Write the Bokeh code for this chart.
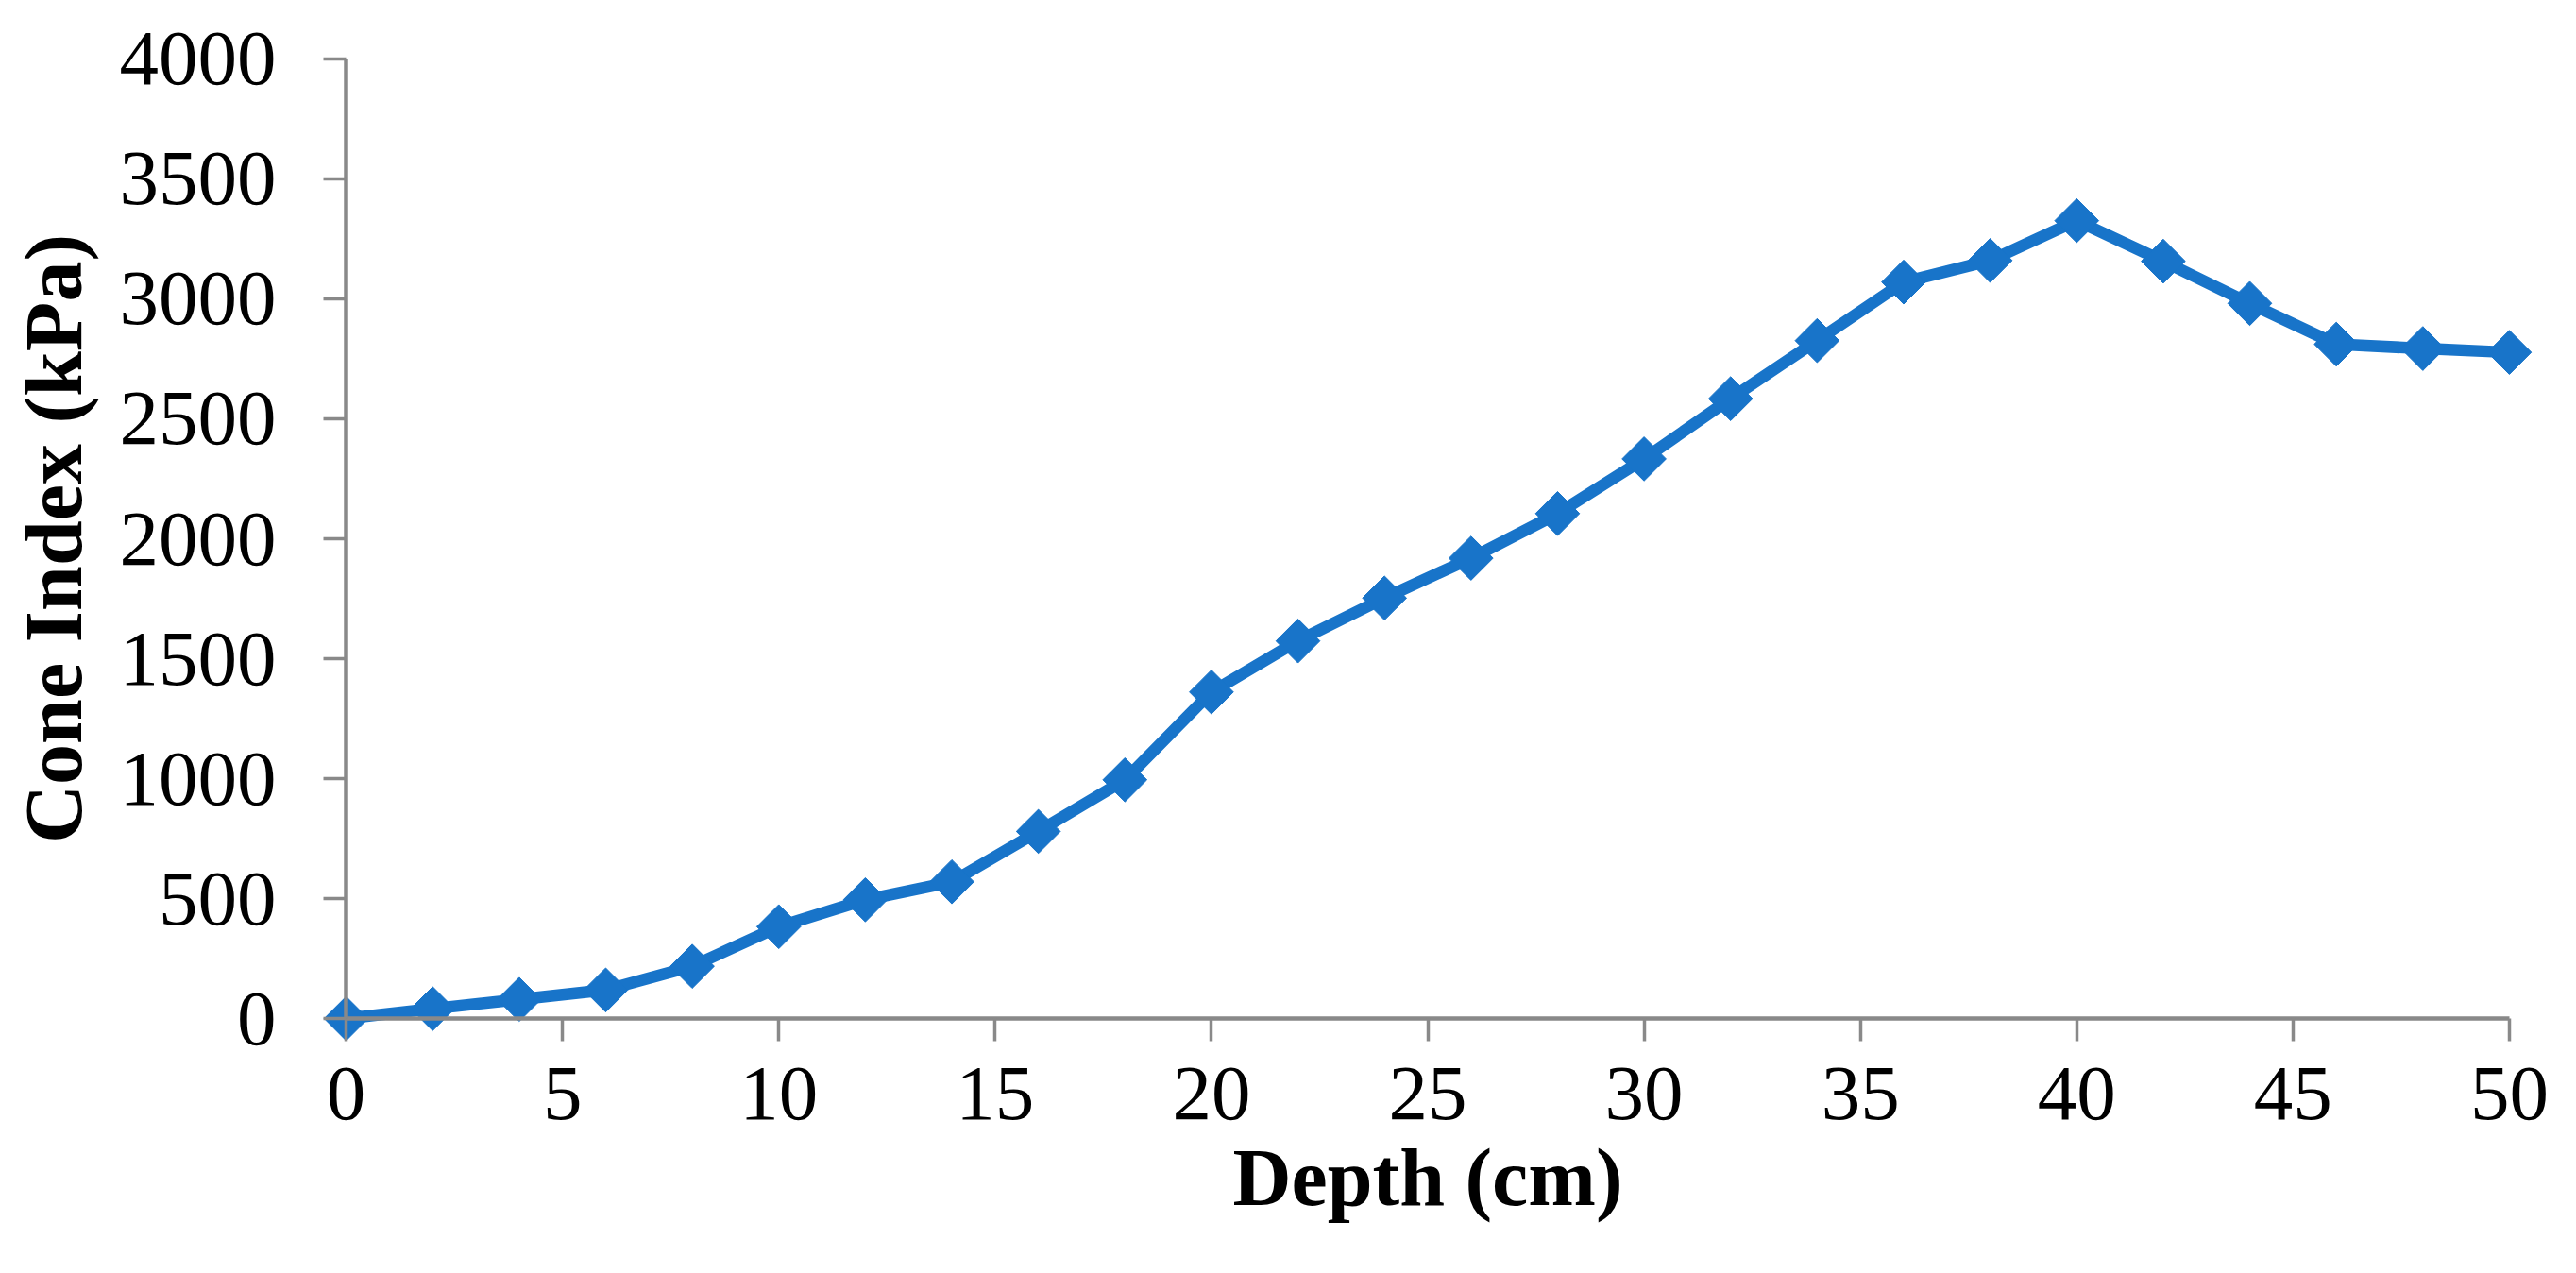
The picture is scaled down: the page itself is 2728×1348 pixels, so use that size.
import numpy as np
from bokeh.plotting import figure
from bokeh.models import Range1d, FixedTicker, LinearAxis
from bokeh.embed import file_html
from bokeh.resources import INLINE

# ---- data ----
depth_cm = [0, 2, 4, 6, 8, 10, 12, 14, 16, 18, 20, 22, 24, 26, 28, 30,
            32, 34, 36, 38, 40, 42, 44, 46, 48, 50]
cone_index_kpa = [0, 41, 80, 119, 218, 383, 495, 570, 780, 995, 1361, 1574,
                  1753, 1919, 2105, 2333, 2584, 2826, 3070, 3160, 3326, 3157,
                  2981, 2811, 2793, 2777]
x_ticks = [0, 5, 10, 15, 20, 25, 30, 35, 40, 45, 50]
y_ticks = [0, 500, 1000, 1500, 2000, 2500, 3000, 3500, 4000]
x_title = "Depth (cm)"
y_title = "Cone Index (kPa)"

BLUE = "#1874C9"
AXIS_GRAY = "#898989"
FONT = "Liberation Serif"

p = figure(width=2712, height=1346, output_backend="svg", toolbar_location=None,
           x_range=Range1d(-0.7, 50.7), y_range=Range1d(-110, 4110),
           min_border_left=334, min_border_right=23,
           min_border_top=34, min_border_bottom=240,
           background_fill_color="white", border_fill_color="white")
p.outline_line_color = None
p.xgrid.visible = False
p.ygrid.visible = False

# --- label axes (at the frame edges): tick labels and titles only ---
for ax in (p.xaxis, p.yaxis):
    ax.axis_line_color = None
    ax.major_tick_line_color = None
    ax.minor_tick_line_color = None
    ax.major_tick_in = 0
    ax.major_tick_out = 0
    ax.major_label_text_font = FONT
    ax.major_label_text_font_size = "83px"
    ax.major_label_text_color = "black"
    ax.axis_label_text_font = FONT
    ax.axis_label_text_font_style = "bold"
    ax.axis_label_text_font_size = "86px"
    ax.axis_label_text_color = "black"
p.xaxis.ticker = FixedTicker(ticks=x_ticks, minor_ticks=[])
p.yaxis.ticker = FixedTicker(ticks=y_ticks, minor_ticks=[])
p.xaxis.bounds = (0, 50)
p.yaxis.bounds = (0, 4110)
p.xaxis.axis_label = x_title
p.yaxis.axis_label = y_title
p.xaxis.major_label_standoff = 24
p.yaxis.major_label_standoff = 42
p.xaxis.axis_label_standoff = 11
p.yaxis.axis_label_standoff = 19

# --- rule axes, fixed through zero: axis lines and tick marks only ---
def rule_axis(ticks, bounds):
    a = LinearAxis(fixed_location=0, bounds=bounds,
                   ticker=FixedTicker(ticks=ticks, minor_ticks=[]))
    a.axis_line_color = AXIS_GRAY
    a.axis_line_width = 4.5
    a.major_tick_line_color = AXIS_GRAY
    a.major_tick_line_width = 3.5
    a.major_tick_in = 0
    a.major_tick_out = 24
    a.minor_tick_line_color = None
    a.major_label_text_color = None
    a.major_label_text_alpha = 0
    return a

p.add_layout(rule_axis(x_ticks, (0, 50)), "below")
p.add_layout(rule_axis(y_ticks, (0, 4000)), "left")

p.line(depth_cm, cone_index_kpa, line_width=12.5, line_color=BLUE,
       line_join="round", line_cap="round")
p.scatter(depth_cm, cone_index_kpa, marker="square", size=33, angle=np.pi / 4,
          fill_color=BLUE, line_color=BLUE, line_width=1)

open("out.html", "w").write(file_html(p, INLINE))
